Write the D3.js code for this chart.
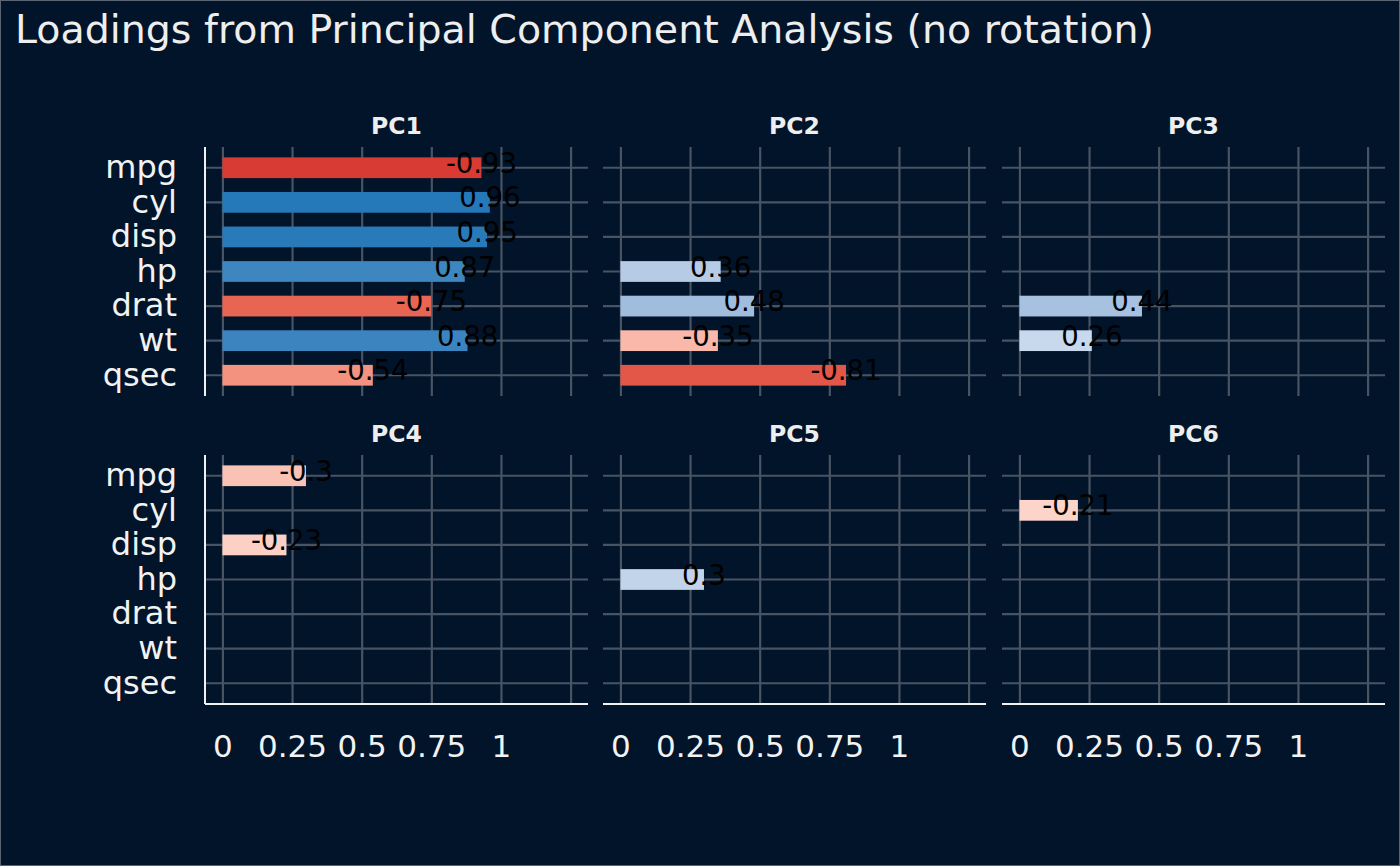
<!DOCTYPE html>
<html lang="en">
<head>
<meta charset="utf-8">
<title>PCA loadings</title>
<script src="https://cdn.jsdelivr.net/npm/d3@7"></script>
<style>
  html, body { margin: 0; padding: 0; background: #011429; }
  svg { display: block; font-family: "DejaVu Sans", sans-serif; }
</style>
</head>
<body>
<svg id="chart" width="1400" height="866"></svg>

<script>
// data (only loadings with |value| >= 0.2 are drawn)
var variables = ["mpg", "cyl", "disp", "hp", "drat", "wt", "qsec"];
var components = ["PC1", "PC2", "PC3", "PC4", "PC5", "PC6"];
var pc1 = [-0.93, 0.96, 0.95, 0.87, -0.75, 0.88, -0.54];
var pc2 = [null, null, null, 0.36, 0.48, -0.35, -0.81];
var pc3 = [null, null, null, null, 0.44, 0.26, null];
var pc4 = [-0.3, null, -0.23, null, null, null, null];
var pc5 = [null, null, null, 0.3, null, null, null];
var pc6 = [null, -0.21, null, null, null, null, null];
var gridTicks = [0, 0.25, 0.5, 0.75, 1, 1.25];
var tickLabels = [0, 0.25, 0.5, 0.75, 1];

var loadings = [pc1, pc2, pc3, pc4, pc5, pc6];

var W = 1400, H = 866;
var panelW = 383, panelH = 249;
var colX = [205, 603, 1002];
var rowY = [147, 455];

var svg = d3.select("#chart");

svg.append("rect")
  .attr("x", 0.5).attr("y", 0.5)
  .attr("width", W - 1).attr("height", H - 1)
  .attr("fill", "#011429")
  .attr("stroke", "#5a6472");

svg.append("text")
  .attr("x", 15).attr("y", 43)
  .attr("fill", "#eeeeee")
  .style("font-size", "39.5px")
  .text("Loadings from Principal Component Analysis (no rotation)");

var x = d3.scaleLinear().domain([-0.0625, 1.3125]).range([0, panelW]);
var y = d3.scaleBand().domain(variables).range([0, panelH])
  .paddingInner(0.4).paddingOuter(0.3);

// diverging fill on the signed loading
var fill = d3.scaleLinear()
  .domain([-1, -0.75, -0.5, -0.2, 0.2, 0.5, 0.75, 1])
  .range(["#d22a27", "#e76552", "#f49a88", "#fdd6cc",
          "#d3e0f1", "#9cbbdc", "#5e97cb", "#1a73b5"])
  .clamp(true);

components.forEach(function(pc, i) {
  var col = i % 3, row = Math.floor(i / 3);
  var g = svg.append("g")
    .attr("transform", "translate(" + colX[col] + "," + rowY[row] + ")");

  // grid
  g.append("g").attr("class", "grid")
    .attr("transform", "translate(0," + panelH + ")")
    .call(d3.axisBottom(x).tickValues(gridTicks).tickSize(-panelH).tickFormat(""));
  g.append("g").attr("class", "grid")
    .call(d3.axisLeft(y).tickSize(-panelW).tickFormat(""));
  g.selectAll(".grid .domain").remove();
  g.selectAll(".grid line").attr("stroke", "#485363").attr("stroke-width", 2.2);

  // strip label
  svg.append("text")
    .attr("x", colX[col] + panelW / 2)
    .attr("y", rowY[row] - 13)
    .attr("text-anchor", "middle")
    .attr("fill", "#eeeeee")
    .style("font-size", "23.5px")
    .style("font-weight", "bold")
    .text(pc);

  var rows = variables.map(function(v, j) { return { name: v, value: loadings[i][j] }; })
    .filter(function(d) { return d.value !== null; });

  g.selectAll("rect.bar").data(rows).enter().append("rect")
    .attr("class", "bar")
    .attr("x", x(0))
    .attr("y", function(d) { return y(d.name); })
    .attr("width", function(d) { return x(Math.abs(d.value)) - x(0); })
    .attr("height", y.bandwidth())
    .attr("fill", function(d) { return fill(d.value); });

  g.selectAll("text.val").data(rows).enter().append("text")
    .attr("class", "val")
    .attr("x", function(d) { return x(Math.abs(d.value)); })
    .attr("y", function(d) { return y(d.name) + y.bandwidth() / 2 + 5; })
    .attr("text-anchor", "middle")
    .attr("fill", "#000")
    .style("font-size", "27.5px")
    .text(function(d) { return String(d.value); });

  // left axis on first column
  if (col === 0) {
    var ya = g.append("g")
      .call(d3.axisLeft(y).tickSize(0).tickPadding(28));
    ya.select(".domain").remove();
    ya.selectAll("text").attr("fill", "#f2f2f2").style("font-size", "32px")
      .attr("font-family", "DejaVu Sans");
    g.append("line")
      .attr("x1", 0).attr("x2", 0).attr("y1", 0).attr("y2", panelH)
      .attr("stroke", "#f2f2f2").attr("stroke-width", 2);
  }

  // bottom axis on last row
  if (row === 1) {
    var xa = g.append("g")
      .attr("transform", "translate(0," + panelH + ")")
      .call(d3.axisBottom(x).tickValues(tickLabels).tickSize(0).tickPadding(31)
        .tickFormat(function(d) { return String(d); }));
    xa.select(".domain").remove();
    xa.selectAll("text").attr("fill", "#f2f2f2").style("font-size", "31px")
      .attr("font-family", "DejaVu Sans");
    g.append("line")
      .attr("x1", 0).attr("x2", panelW).attr("y1", panelH).attr("y2", panelH)
      .attr("stroke", "#f2f2f2").attr("stroke-width", 2);
  }
});
</script>
</body>
</html>
